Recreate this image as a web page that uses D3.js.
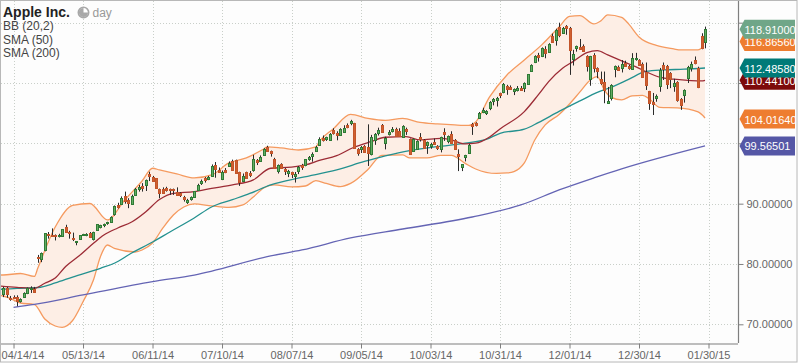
<!DOCTYPE html>
<html>
<head>
<meta charset="utf-8">
<script src="https://cdnjs.cloudflare.com/ajax/libs/d3/7.8.5/d3.min.js"></script>
<style>
body { margin: 0; background: #fff; }
text { font-family: "Liberation Sans", Arial, sans-serif; }
</style>
</head>
<body>
<svg id="chart" width="798" height="363"></svg>
<script>
// one row = ten daily bars, bar 0 sits three days before 04/14/14
var opens = [
  75.0,76.0,74.4,74.6,74.5,73.9,74.5,75.2,75.9,75.9,
  81.2,80.9,82.2,84.9,84.8,84.8,84.6,84.65,86.1,85.3,
  84.3,83.6,84.15,84.8,84.8,85.1,84.25,85.6,86.1,86.5,
  86.7,87.0,88.3,89.8,90.0,91.3,90.6,90.05,91.45,92.55,
  92.95,93.1,94.9,94.35,94.2,92.4,92.45,92.6,92.45,92.4,
  92.0,91.7,91.1,90.2,90.7,91.15,92.3,93.4,94.25,94.1,
  94.6,96.4,95.6,94.05,95.65,96.25,97.15,97.25,95.2,93.8,
  95.2,95.1,95.6,97.2,97.15,98.05,99.45,98.65,97.4,95.45,
  96.6,95.75,95.1,95.2,94.6,95.45,96.4,96.4,97.35,97.9,
  98.8,99.75,100.9,100.65,100.55,102.15,101.7,101.4,101.95,103.05,
  103.3,103.35,99.05,99.0,99.55,99.35,98.35,100.55,101.7,103.05,
  100.1,101.55,101.9,102.4,102.05,101.0,102.45,100.7,98.75,99.0,
  101.0,100.55,99.75,99.6,100.3,99.5,99.05,101.8,100.4,101.5,
  100.55,98.3,96.05,97.6,98.5,103.2,103.3,104.25,105.3,105.05,
  105.9,107.05,107.2,108.3,108.45,109.55,109.4,108.7,108.95,109.25,
  109.25,109.8,112.05,113.45,114.7,114.4,115.6,115.2,117.8,117.15,
  119.25,118.4,119.5,119.1,113.95,115.8,116.0,116.15,114.4,110.55,
  114.65,112.45,110.65,110.25,106.8,107.5,112.3,112.6,112.55,113.4,
  112.8,112.3,113.9,113.8,113.15,111.9,108.6,106.8,107.55,109.55,
  113.0,112.85,111.6,109.55,110.15,107.3,108.05,110.7,112.45,113.8,
  112.55,117.8,116.75
];
var highs = [
  76.2,76.2,74.7,74.8,74.8,74.3,75.3,76.1,76.3,76.2,
  81.5,81.9,85.1,85.3,85.9,84.9,85.0,85.8,86.5,85.5,
  85.2,83.8,84.8,85.0,85.1,85.3,85.35,86.6,86.5,86.7,
  87.0,87.9,89.7,90.15,91.2,92.0,90.9,91.5,92.6,93.1,
  93.4,94.0,95.3,94.6,94.2,92.5,92.7,92.8,92.5,92.5,
  92.7,91.9,91.3,90.8,91.2,92.1,93.3,94.0,94.4,94.6,
  96.5,96.9,96.0,95.5,95.9,97.0,97.3,97.3,95.3,95.0,
  95.3,95.4,98.1,97.4,98.0,99.2,99.6,98.8,97.6,96.5,
  96.7,95.9,95.6,95.3,95.25,96.25,96.6,97.4,97.9,98.5,
  99.6,101.0,101.3,101.1,101.7,102.5,102.0,102.5,103.0,103.3,
  103.9,103.4,99.2,99.55,99.7,103.15,101.4,101.7,102.6,103.2,
  101.1,102.2,102.7,102.6,102.5,103.0,102.6,100.8,100.8,100.5,
  101.7,100.7,100.3,100.1,100.8,99.7,101.1,102.5,101.3,102.0,
  100.7,99.0,96.55,98.1,99.9,103.4,103.5,105.2,105.9,105.5,
  107.0,107.5,107.7,108.4,110.0,109.7,109.6,109.1,109.5,109.5,
  110.1,111.5,113.1,114.6,115.0,115.9,116.1,116.6,118.2,119.0,
  120.0,119.3,119.6,119.3,115.5,116.2,117.3,116.4,114.6,114.5,
  114.95,112.6,111.9,111.9,109.35,109.8,112.9,112.9,113.8,113.7,
  113.0,114.95,115.0,113.95,113.4,113.4,108.7,108.35,108.1,112.5,
  113.4,113.0,111.8,110.7,110.3,107.5,108.95,112.85,113.55,114.4,
  112.7,118.25,119.35
];
var lows = [
  74.5,74.4,73.9,74.2,73.0,73.6,74.4,75.0,75.2,75.2,
  80.2,80.3,82.1,84.2,84.5,83.9,84.4,84.6,85.3,84.2,
  83.8,83.1,84.1,84.7,84.6,84.3,83.9,85.5,85.9,86.1,
  86.5,86.9,88.0,89.2,89.9,90.0,89.25,90.0,91.4,92.0,
  92.0,92.1,93.75,93.6,92.5,90.9,91.8,92.0,91.45,91.45,
  91.4,91.1,90.35,89.95,90.5,91.0,92.2,93.1,93.5,93.9,
  94.5,94.3,95.1,93.9,95.05,96.1,95.6,95.0,92.95,93.6,
  94.1,94.4,95.3,96.4,97.0,97.9,98.6,97.8,95.8,95.0,
  95.8,94.75,94.4,94.25,93.5,94.9,95.6,96.2,97.1,96.95,
  98.6,99.6,100.3,100.4,100.4,101.45,100.5,101.3,101.8,102.5,
  103.0,99.1,97.95,98.4,98.5,96.25,98.0,99.75,101.3,101.8,
  99.0,101.3,101.8,101.2,101.2,100.9,101.4,98.15,98.65,98.9,
  100.3,99.1,98.25,99.1,99.9,98.9,98.5,100.4,100.0,99.9,
  98.9,95.4,95.4,97.0,98.4,101.4,102.8,104.1,105.0,104.7,
  105.5,106.3,106.1,107.5,108.3,108.05,109.0,108.0,108.6,108.8,
  108.5,109.7,111.9,113.3,113.55,114.3,114.1,115.0,116.7,116.2,
  117.6,118.2,118.0,111.35,112.9,115.2,115.6,115.2,111.9,109.55,
  111.75,110.8,109.7,106.65,106.65,107.1,110.95,112.0,111.75,112.8,
  112.2,112.2,113.7,112.9,110.9,108.85,105.55,104.7,106.9,108.55,
  110.5,109.0,109.15,108.55,106.9,105.55,106.75,110.0,111.9,113.1,
  109.15,115.6,115.75
];
var closes = [
  76.0,75.0,74.2,74.4,73.9,74.2,75.2,76.0,76.0,75.4,
  81.0,81.9,85.1,84.7,84.6,84.6,84.8,85.75,85.35,85.1,
  84.1,83.8,84.8,84.9,84.95,84.5,85.35,86.6,86.4,86.7,
  86.9,87.85,89.6,89.45,91.0,90.5,90.05,91.3,92.4,92.8,
  92.7,93.9,94.5,93.75,92.55,91.7,91.85,92.35,92.25,92.2,
  91.45,91.3,90.8,90.6,91.05,92.1,93.1,93.75,93.9,94.4,
  96.25,95.75,95.35,95.2,95.3,96.8,95.7,95.05,93.5,94.6,
  94.2,94.7,97.4,96.9,97.8,99.05,98.8,98.4,95.9,96.4,
  95.9,95.4,95.35,94.8,94.9,96.05,96.0,97.35,97.7,98.25,
  99.45,100.7,100.55,101.0,101.55,101.7,101.4,102.35,102.6,102.7,
  103.65,99.2,98.45,99.4,98.6,98.35,101.1,101.5,102.2,101.95,
  100.95,101.95,102.3,101.3,101.3,102.9,102.15,98.25,100.7,100.4,
  100.65,99.2,100.2,99.9,100.0,99.1,101.0,101.45,101.2,100.0,
  99.0,97.9,96.5,98.0,99.75,102.9,103.0,105.1,105.6,105.4,
  106.9,107.35,107.45,108.0,109.8,109.0,109.15,109.0,109.2,109.0,
  110.0,111.45,113.0,114.4,114.4,115.75,114.95,116.45,116.85,118.8,
  117.85,119.2,119.2,115.5,114.8,116.1,115.7,115.35,112.7,114.4,
  112.45,111.9,110.0,108.85,107.1,109.7,112.85,112.15,113.15,112.95,
  112.4,114.1,114.1,113.0,110.95,109.7,106.65,106.55,107.9,112.2,
  112.3,109.8,110.6,110.0,107.2,106.25,108.85,112.6,113.1,113.3,
  109.4,115.75,118.91
];

// indicator readings, each with the bar numbers it was read at
var bbUpperAt = [-1,0,5,9,10,15,20,25,30,35,40,43,45,50,55,60,65,70,75,76,80,85,90,91,95,100,105,110,115,120,125,130,134,136,140,145,150,155,160,163,166,170,172,174,178,180,183,188,193,195,200,201,202];
var bbUpper = [78.17,78.17,78.42,77.93,79.34,86.13,89.7,90.03,87.3,90.61,93.76,95.87,95.59,94.92,94.26,94.76,96.75,97.58,99.07,99.4,99.24,98.9,99.4,100.31,102.39,104.79,104.13,103.8,104.13,103.46,103.22,103.05,102.97,103.55,107.69,111.34,113.83,116.32,119.3,121.04,121.18,119.8,120.3,121.29,120.88,119.8,117.64,116.23,115.65,115.49,115.49,115.82,118.31];
var bbLowerAt = [-1,0,2,5,9,12,15,17,20,23,26,28,30,32,38,40,43,46,49,52,55,60,65,69,72,75,78,83,87,90,93,97,100,105,109,115,117,122,126,129,133,136,142,145,147,150,153,156,160,163,166,169,171,173,175,178,181,184,186,189,194,200,202];
var bbLower = [74.77,74.69,74.31,73.53,73.28,70.88,69.72,69.5,70.63,73.75,77.34,81.21,83.15,82.57,81.99,82.32,83.48,85.97,88.12,89.45,89.95,89.62,89.37,89.78,91.11,92.6,93.1,92.77,92.93,93.81,93.35,92.82,93.35,95.67,98.0,98.08,97.58,97.58,98.0,98.0,96.67,95.75,95.01,95.09,95.31,96.75,100.56,103.05,104.79,106.53,108.52,110.51,111.06,108.85,107.61,107.2,107.86,107.94,107.36,105.95,105.87,105.21,104.21];
var sma20At = [-1,4,9,12,15,18,22,26,29,33,37,41,45,49,55,60,66,72,77,83,87,91,96,101,106,110,116,120,126,129,133,136,140,143,150,154,157,161,164,168,171,174,178,182,186,189,193,198,201,202];
var sma20 = [76.35,76.13,75.97,76.8,77.68,79.58,81.41,83.43,84.81,85.97,86.96,88.62,90.7,91.72,91.99,92.52,93.1,93.93,95.87,96.04,96.42,97.16,97.96,99.35,100.31,101.01,101.11,100.56,100.81,100.56,99.9,100.02,101.06,102.39,105.26,108.03,110.23,112.45,113.55,115.04,115.37,114.66,113.66,112.72,111.62,110.96,110.63,110.4,110.35,110.44];
var sma50At = [-1,4,10,15,20,28,32,37,43,48,55,60,66,71,77,86,96,104,110,117,125,133,139,143,150,154,160,166,171,175,180,185,190,196,202];
var sma50 = [75.8,75.97,76.1,76.85,77.84,79.29,80.12,81.82,83.64,85.31,87.63,89.45,90.66,91.69,93.1,94.34,95.59,96.99,97.91,98.79,99.45,100.02,100.65,101.67,102.34,103.43,105.29,107.03,108.44,109.3,110.6,111.92,112.17,112.29,112.49];
var sma200At = [3,9,23,43,55,77,86,100,115,135,149,160,170,178,202];
var sma200 = [72.82,73.31,74.86,77.06,78.17,81.33,82.32,84.31,85.8,87.79,89.78,92.27,94.26,95.76,99.57];

var dateTickBars = [3,23,43,63,83,103,123,143,163,183,203];
var dateTickLabels = ["04/14/14","05/13/14","06/11/14","07/10/14","08/07/14","09/05/14","10/03/14","10/31/14","12/01/14","12/30/14","01/30/15"];
var priceTicks = [70,80,90,100,110,120];
// 100, 110 and 120 sit behind the value tags, so only their ticks show
var priceLabels = ["70.00000","80.00000","90.00000","","",""];
var legendLabels = ["BB (20,2)","SMA (50)","SMA (200)"];
// drawn in this order so the later tag lies on top
var tagValues = [116.8656,118.91,110.441,112.4858,104.0164,99.56501];
var tagTexts = ["116.86560","118.91000","110.44100","112.48580","104.01640","99.56501"];
var tagColors = ["#ee7d30","#6fa688","#7d0a0a","#007a78","#ee7d30","#5557a6"];

var plotRight = 738, plotBottom = 343;

var svg = d3.select("#chart");
var x = d3.scaleLinear().domain([0, 203]).range([3.1, 708.5]);
var y = d3.scaleLinear().domain([70, 120]).range([324.3, 22.7]);

svg.append("rect").attr("width", 798).attr("height", 363).attr("fill", "#fdfdfd");

svg.append("clipPath").attr("id", "plot-clip").append("rect")
   .attr("x", 1).attr("y", 1).attr("width", plotRight - 1).attr("height", plotBottom - 1);

// grid
var grid = svg.append("g").attr("stroke", "#c9cfc9").attr("stroke-dasharray", "1,2");
grid.selectAll(".gy").data(priceTicks).enter().append("line")
    .attr("x1", 1).attr("x2", plotRight)
    .attr("y1", function(d){ return Math.round(y(d)) + 0.5; })
    .attr("y2", function(d){ return Math.round(y(d)) + 0.5; });
grid.selectAll(".gx").data(dateTickBars).enter().append("line")
    .attr("y1", 1).attr("y2", plotBottom)
    .attr("x1", function(d){ return Math.round(x(d)) + 0.5; })
    .attr("x2", function(d){ return Math.round(x(d)) + 0.5; });

var plot = svg.append("g").attr("clip-path", "url(#plot-clip)");

function pathOf(bars, values) {
  return d3.line()
    .x(function(d){ return x(d[0]); })
    .y(function(d){ return y(d[1]); })
    .curve(d3.curveMonotoneX)(d3.zip(bars, values));
}

var upperPath = pathOf(bbUpperAt, bbUpper);
var lowerBack = pathOf(bbLowerAt.slice().reverse(), bbLower.slice().reverse());
plot.append("path").attr("d", upperPath + "L" + lowerBack.slice(1) + "Z")
    .attr("fill", "#fdeee5").attr("stroke", "none");

function addLine(d, color, w) {
  plot.append("path").attr("d", d).attr("fill", "none")
      .attr("stroke", color).attr("stroke-width", w).attr("stroke-linejoin", "round");
}
addLine(upperPath, "#f59a5f", 1.3);
addLine(pathOf(bbLowerAt, bbLower), "#f59a5f", 1.3);
addLine(pathOf(sma200At, sma200), "#6464b4", 1.3);
addLine(pathOf(sma50At, sma50), "#23918f", 1.3);
addLine(pathOf(sma20At, sma20), "#9c2b35", 1.3);

// candles
var bars = plot.selectAll(".bar").data(d3.range(opens.length)).enter().append("g");
bars.append("line")
    .attr("x1", function(i){ return Math.round(x(i)) + 0.5; })
    .attr("x2", function(i){ return Math.round(x(i)) + 0.5; })
    .attr("y1", function(i){ return y(highs[i]); })
    .attr("y2", function(i){ return y(lows[i]); })
    .attr("stroke", "#2a2a2a");
bars.append("rect")
    .attr("x", function(i){ return Math.round(x(i)) - 0.5; })
    .attr("width", 2)
    .attr("y", function(i){ return Math.round(y(Math.max(opens[i], closes[i]))) + 0.5; })
    .attr("height", function(i){ return Math.max(1, Math.round(Math.abs(y(opens[i]) - y(closes[i])))); })
    .attr("fill", function(i){ return closes[i] >= opens[i] ? "#63ad63" : "#d0602f"; })
    .attr("stroke", function(i){ return closes[i] >= opens[i] ? "#2f7a35" : "#c2542a"; });

// axes
var yAxis = svg.append("g").attr("transform", "translate(" + (plotRight + 0.5) + ",0)")
   .call(d3.axisRight(y).tickValues(priceTicks).tickSize(5).tickPadding(3)
         .tickFormat(function(d, i){ return priceLabels[i]; }));
var xAxis = svg.append("g").attr("transform", "translate(0," + (plotBottom + 0.5) + ")")
   .call(d3.axisBottom(x).tickValues(dateTickBars).tickSize(5).tickPadding(3)
         .tickFormat(function(d, i){ return dateTickLabels[i]; }));
xAxis.select(".domain").attr("d", "M1,0.5H" + plotRight);
yAxis.select(".domain").attr("d", "M0,0.5V" + plotBottom);
svg.selectAll(".domain").attr("stroke", "#7f7f7f").attr("stroke-width", 1.2);
svg.selectAll(".tick line").attr("stroke", "#7f7f7f");
svg.selectAll(".tick text").attr("font-size", 11).attr("fill", "#666")
   .style("font-family", '"Liberation Sans", Arial, sans-serif');
// first date label is pushed right so it stays inside the frame
xAxis.select(".tick text").attr("text-anchor", "start").attr("x", -12.5);

// title block
svg.append("text").attr("x", 3).attr("y", 17).attr("font-size", 14).attr("font-weight", "bold")
   .attr("fill", "#222").text("Apple Inc.");
var clock = svg.append("g").attr("transform", "translate(83.5,12.5)");
clock.append("circle").attr("r", 5.2).attr("fill", "#fff").attr("stroke", "#a8a8a8").attr("stroke-width", 1.6);
clock.append("path").attr("fill", "#a8a8a8")
   .attr("d", d3.arc().innerRadius(0).outerRadius(4.6).startAngle(Math.PI * 0.5).endAngle(Math.PI * 2)());
svg.append("text").attr("x", 92.5).attr("y", 16.5).attr("font-size", 12).attr("fill", "#999").text("day");
svg.selectAll(".legend").data(legendLabels).enter().append("text")
   .attr("x", 3).attr("y", function(d, i){ return 30 + i * 13.5; })
   .attr("font-size", 12).attr("fill", "#444").text(function(d){ return d; });

// last value tags
var tagLeft = 739.5, tagRight = 795, tagHalf = 9.5;
tagValues.forEach(function(v, i) {
  var c = y(v);
  var g = svg.append("g");
  g.append("path").attr("fill", tagColors[i])
   .attr("d", d3.line()([[tagLeft, c], [tagLeft + 5, c - tagHalf], [tagRight, c - tagHalf],
                         [tagRight, c + tagHalf], [tagLeft + 5, c + tagHalf]]) + "Z");
  svg.append("clipPath").attr("id", "tag-" + i).append("rect")
     .attr("x", tagLeft).attr("y", c - tagHalf).attr("width", tagRight - tagLeft).attr("height", 2 * tagHalf);
  g.append("text").attr("x", 744.5).attr("y", c + 4.5).attr("font-size", 11).attr("fill", "#fff")
   .attr("clip-path", "url(#tag-" + i + ")").text(tagTexts[i]);
});

svg.append("rect").attr("x", 0.5).attr("y", 0.5).attr("width", 796.5).attr("height", 361.5)
   .attr("fill", "none").attr("stroke", "#b8b8b8");
</script>
</body>
</html>
